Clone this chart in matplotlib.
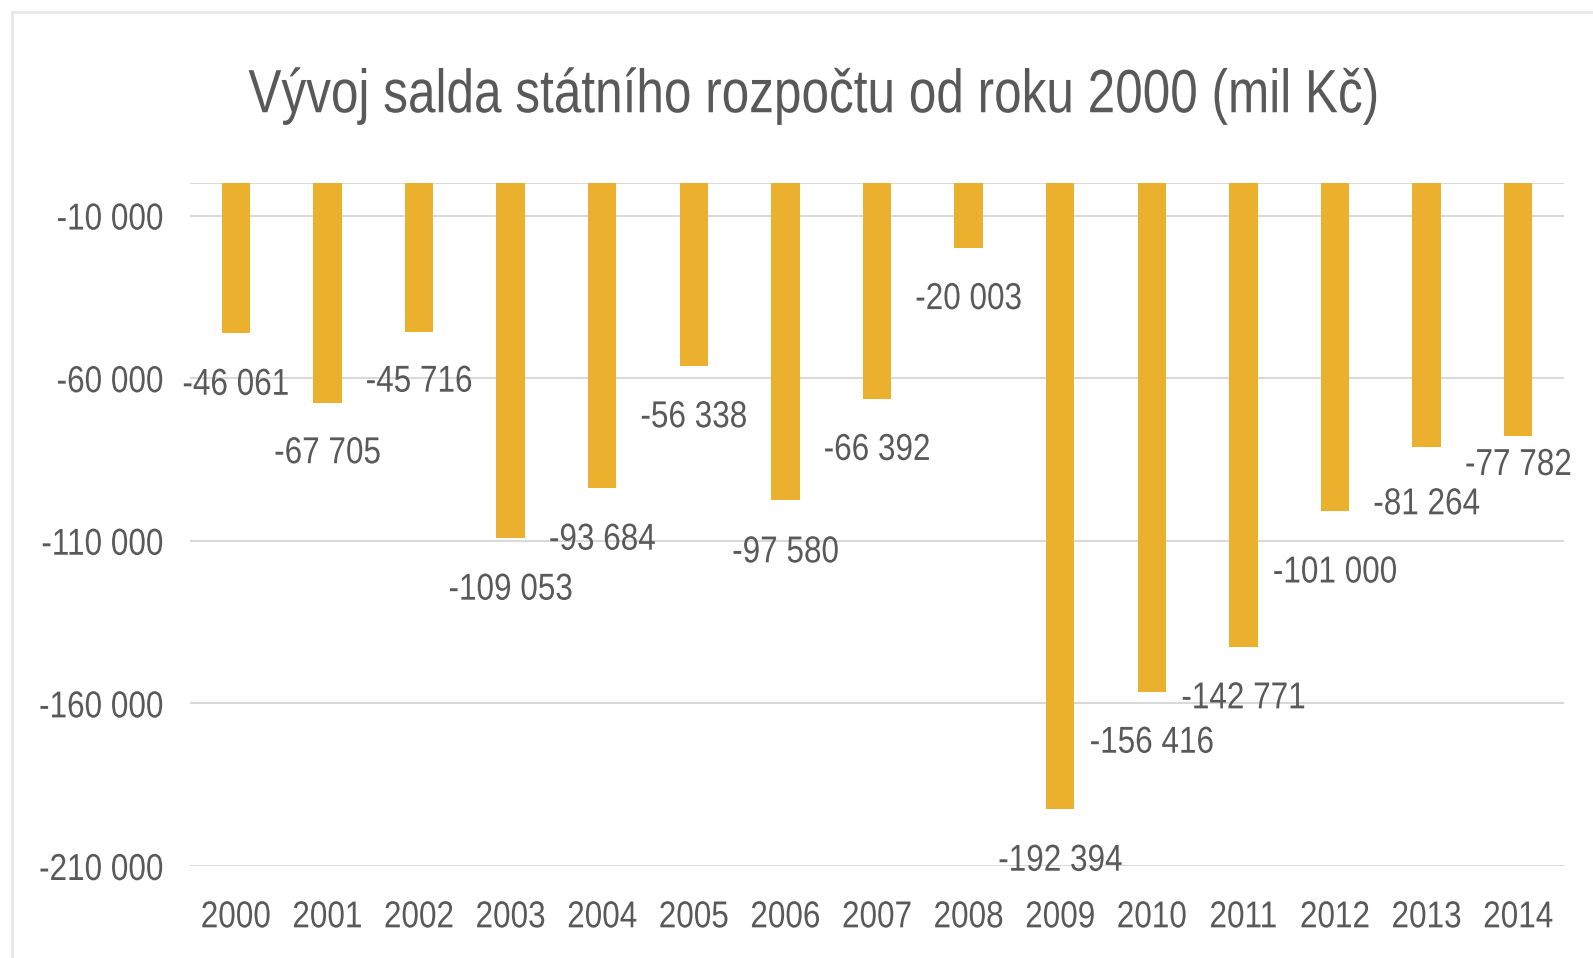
import matplotlib
matplotlib.use('Agg')
from matplotlib import pyplot as plt
from matplotlib import patheffects
from matplotlib.lines import Line2D
from matplotlib.transforms import Affine2D

years = ['2000', '2001', '2002', '2003', '2004', '2005', '2006', '2007',
         '2008', '2009', '2010', '2011', '2012', '2013', '2014']
saldo = [-46061, -67705, -45716, -109053, -93684, -56338, -97580, -66392,
         -20003, -192394, -156416, -142771, -101000, -81264, -77782]
y_ticks = [-10000, -60000, -110000, -160000, -210000]

# label offsets below bar end, in pixels
label_dy = [-52, -50, -50, -52, -52, -51, -52, -51, -51, -52, -51, -51, -61, -57, -29]

BAR_COLOR = '#ebb02d'
TEXT_COLOR = '#595959'
GRID_COLOR = '#d9d9d9'


class Squeeze(patheffects.AbstractPathEffect):
    """Narrow the text horizontally, keeping the given anchor in place."""

    def __init__(self, factor, anchor='center'):
        super().__init__()
        self.factor = factor
        self.anchor = anchor

    def draw_path(self, renderer, gc, tpath, affine, rgbFace=None):
        ext = tpath.get_extents()
        if self.anchor == 'right':
            cx = ext.x1
        elif self.anchor == 'left':
            cx = ext.x0
        else:
            cx = (ext.x0 + ext.x1) / 2
        squeeze = Affine2D().translate(-cx, 0).scale(self.factor, 1).translate(cx, 0)
        renderer.draw_path(gc, tpath, squeeze + affine, rgbFace)


def fmt(v):
    return f'{v:,}'.replace(',', ' ')


def main():
    plt.rcParams['font.family'] = ['Liberation Sans', 'DejaVu Sans']

    fig = plt.figure(figsize=(15.93, 9.58), dpi=100)
    fig.patch.set_facecolor('white')

    # chart area frame (only top and left edges are visible)
    fx, fy = 12 / 1593, 1 - 12 / 958
    fig.lines.append(Line2D([fx, 1.0], [fy, fy], transform=fig.transFigure,
                            color='#e8e8e8', linewidth=2))
    fig.lines.append(Line2D([fx, fx], [0, fy], transform=fig.transFigure,
                            color='#e8e8e8', linewidth=2))

    ax = fig.add_axes([190 / 1593, 1 - 866 / 958, (1564 - 190) / 1593, (866 - 183) / 958])
    x = range(len(years))
    ax.bar(x, saldo, width=0.31, color=BAR_COLOR, zorder=3)

    ax.set_xlim(-0.5, len(years) - 0.5)
    ax.set_ylim(-210000, 0)
    ax.set_yticks(y_ticks)
    ax.set_yticklabels([fmt(v) for v in y_ticks])
    ax.set_xticks(list(x))
    ax.set_xticklabels(years)

    for v in y_ticks + [0]:
        ax.axhline(v, color=GRID_COLOR, linewidth=1.5, zorder=1)

    for s in ax.spines.values():
        s.set_visible(False)
    ax.tick_params(axis='both', length=0, labelsize=27, colors=TEXT_COLOR)
    ax.tick_params(axis='y', pad=19)
    ax.tick_params(axis='x', pad=24)
    for t in ax.get_yticklabels():
        t.set_path_effects([Squeeze(0.84, 'right')])
    for t in ax.get_xticklabels():
        t.set_path_effects([Squeeze(0.84)])

    for i, v in enumerate(saldo):
        ax.annotate(fmt(v), (i, v), xytext=(0, label_dy[i]), textcoords='offset pixels',
                    ha='center', va='center', fontsize=27, color=TEXT_COLOR, zorder=4,
                    path_effects=[Squeeze(0.84)])

    fig.text(815 / 1593, 1 - 96 / 958, 'Vývoj salda státního rozpočtu od roku 2000 (mil Kč)',
             ha='center', va='center', fontsize=44, color=TEXT_COLOR,
             path_effects=[Squeeze(0.81)])

    fig.savefig('out.png', dpi=100)
    plt.close(fig)


if __name__ == '__main__':
    main()
